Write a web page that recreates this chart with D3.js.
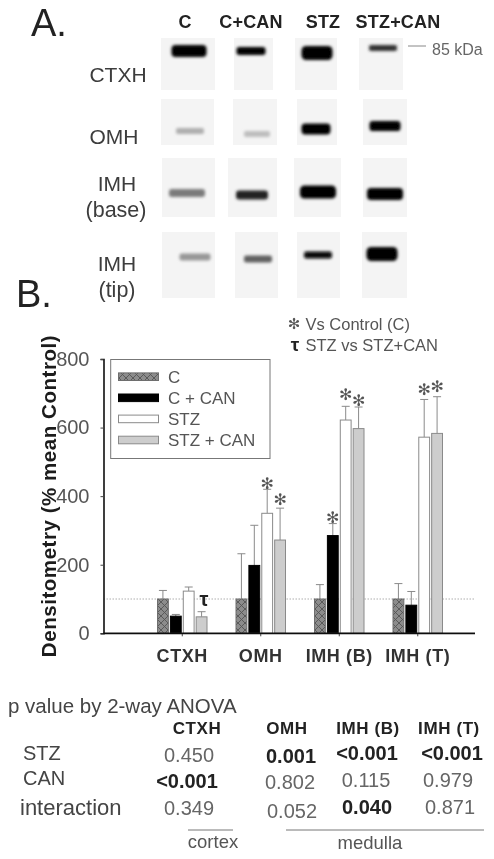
<!DOCTYPE html>
<html>
<head>
<meta charset="utf-8">
<script src="https://cdn.jsdelivr.net/npm/d3@7"></script>
<style>
    html, body { margin: 0; padding: 0; background: #fff; }
    svg { display: block; }
    text { font-family: 'Liberation Sans', Arial, sans-serif; fill: #3c3c3c; }
    .domain { fill: none; }
</style>
</head>
<body>
<svg></svg>
<script>
// Values
const groups = ['CTXH', 'OMH', 'IMH (B)', 'IMH (T)'];
const seriesNames = ['C', 'C + CAN', 'STZ', 'STZ + CAN'];
const valuesC = [100, 100, 100, 100];
const valuesCCan = [50, 198, 285, 82];
const valuesStz = [123, 350, 622, 572];
const valuesStzCan = [48, 272, 597, 583];
const errorC = [125, 232, 142, 145];
const errorCCan = [55, 315, 320, 122];
const errorStz = [135, 420, 662, 682];
const errorStzCan = [63, 365, 660, 690];
const yTicks = [0, 200, 400, 600, 800];
const referenceLine = 100;
// [group, series, height of the asterisk in chart units]
const significance = [
    [1, 2, 439], [1, 3, 392], [2, 1, 339], [2, 2, 698],
    [2, 3, 680], [3, 2, 712], [3, 3, 721]
];

// Blots
const blotColumns = ['C', 'C+CAN', 'STZ', 'STZ+CAN'];
const bandStrength = [
    [1, 1, 1, 0.8],
    [0.28, 0.22, 1, 1],
    [0.5, 0.85, 1, 1],
    [0.38, 0.6, 0.95, 1]
];

// ANOVA table
const tableHeaders = ['CTXH', 'OMH', 'IMH (B)', 'IMH (T)'];
const tableRows = ['STZ', 'CAN', 'interaction'];
const tableValues = [
    ['0.450', '0.001', '<0.001', '<0.001'],
    ['<0.001', '0.802', '0.115', '0.979'],
    ['0.349', '0.052', '0.040', '0.871']
];
const tableBold = [
    [false, true, true, true],
    [true, false, false, false],
    [false, false, true, false]
];

const canvasW = 494;
const canvasH = 859;
const svg = d3.select('svg').attr('width', canvasW).attr('height', canvasH);

// ---------------------------------------------------------
// Defs: the whole figure is a soft scan, so everything gets a slight blur
const defs = svg.append('defs');
defs.append('filter').attr('id', 'soft')
    .attr('x', 0).attr('y', 0)
    .attr('filterUnits', 'userSpaceOnUse')
    .attr('width', canvasW).attr('height', canvasH)
    .append('feGaussianBlur').attr('stdDeviation', 0.6);
defs.append('filter').attr('id', 'bandBlur')
    .attr('x', '-30%').attr('y', '-80%').attr('width', '160%').attr('height', '260%')
    .append('feGaussianBlur').attr('stdDeviation', 1.4);
const hatch = defs.append('pattern').attr('id', 'hatch')
    .attr('width', 7).attr('height', 7)
    .attr('patternUnits', 'userSpaceOnUse');
hatch.append('rect').attr('width', 7).attr('height', 7).attr('fill', '#8c8c8c');
hatch.append('path').attr('d', 'M0,0L7,7M7,0L0,7')
    .attr('stroke', '#555').attr('stroke-width', 0.9);

const root = svg.append('g').attr('filter', 'url(#soft)');

function label(parent, txt, x, y, size, opts) {
    opts = opts || {};
    return parent.append('text')
        .text(txt)
        .attr('x', x)
        .attr('y', y)
        .attr('font-size', size)
        .attr('font-weight', opts.bold ? 'bold' : 'normal')
        .attr('text-anchor', opts.anchor || 'middle')
        .attr('letter-spacing', opts.spacing || null)
        .style('fill', opts.color || null);
}

// ---------------------------------------------------------
// Panel A
const blots = root.append('g').attr('id', 'blots');
label(blots, 'A.', 31, 36, 38, { anchor: 'start', color: '#222' });

const colX = [185, 251, 323, 398];
blotColumns.forEach((c, i) => label(blots, c, colX[i], 28, 18, { bold: true, color: '#222', spacing: 0.2 }));

// panel: x0, x1 per column; y0, y1 per row. band: cx, cy, w, h
const panelY = [[38, 90], [99, 145], [158, 217], [232, 298]];
const panelX = [
    [[161, 215], [234, 273], [295, 337], [359, 403]],
    [[161, 214], [233, 277], [297, 337], [363, 407]],
    [[162, 215], [228, 277], [294, 341], [363, 407]],
    [[162, 215], [235, 278], [297, 340], [362, 407]]
];
const bandBox = [
    [[189, 51, 35, 12], [251, 51, 29, 8], [317, 53, 31, 14], [383, 48, 28, 6]],
    [[190, 131, 28, 6], [257, 134, 26, 6], [316, 129, 29, 11], [385, 126, 31, 10]],
    [[187, 193, 36, 8], [252, 195, 32, 9], [318, 192, 36, 13], [385, 194, 36, 12]],
    [[195, 257, 31, 7], [258, 259, 28, 7], [318, 255, 28, 7], [382, 254, 31, 14]]
];
const bandShade = d3.scaleLinear().domain([0, 1]).range(['#f3f3f3', '#000']);

bandStrength.forEach((row, r) => {
    row.forEach((strength, c) => {
        const [x0, x1] = panelX[r][c];
        const [y0, y1] = panelY[r];
        blots.append('rect')
            .attr('x', x0).attr('y', y0)
            .attr('width', x1 - x0).attr('height', y1 - y0)
            .attr('fill', '#f4f4f4');
        const [cx, cy, w, h] = bandBox[r][c];
        blots.append('rect')
            .attr('x', cx - w / 2).attr('y', cy - h / 2)
            .attr('width', w).attr('height', h)
            .attr('rx', h / 3)
            .attr('fill', bandShade(strength))
            .attr('filter', 'url(#bandBlur)');
    });
});

blots.append('line').attr('x1', 408).attr('x2', 426).attr('y1', 46).attr('y2', 46)
    .attr('stroke', '#888').attr('stroke-width', 1);
label(blots, '85 kDa', 432, 55, 16, { anchor: 'start', color: '#666' });

label(blots, 'CTXH', 118, 82, 21);
label(blots, 'OMH', 114, 144, 21);
label(blots, 'IMH', 117, 191, 21);
label(blots, '(base)', 116, 217, 21.5);
label(blots, 'IMH', 117, 271, 21);
label(blots, '(tip)', 117, 297, 21.5);

// ---------------------------------------------------------
// Panel B
label(root, 'B.', 16, 307, 38, { anchor: 'start', color: '#222' });

const chartLeft = 103.5;
const chartRight = 475;
const yScale = d3.scaleLinear().domain([0, 800]).range([633.3, 359]);
const xGroup = d3.scaleBand().domain(groups).range([143, 457]).paddingInner(0).paddingOuter(0);
const xSeries = d3.scaleBand().domain(seriesNames).range([14.5, 64]).paddingInner(0.16);

const chart = root.append('g').attr('id', 'chart');

// reference line at 100
chart.append('line')
    .attr('x1', chartLeft).attr('x2', chartRight)
    .attr('y1', yScale(referenceLine)).attr('y2', yScale(referenceLine))
    .attr('stroke', '#999').attr('stroke-width', 0.8)
    .attr('stroke-dasharray', '1.5 1.5');

const seriesList = [
    { name: seriesNames[0], values: valuesC, errors: errorC, fill: 'url(#hatch)', stroke: '#6e6e6e' },
    { name: seriesNames[1], values: valuesCCan, errors: errorCCan, fill: '#000', stroke: '#000' },
    { name: seriesNames[2], values: valuesStz, errors: errorStz, fill: '#fff', stroke: '#8a8a8a' },
    { name: seriesNames[3], values: valuesStzCan, errors: errorStzCan, fill: '#cdcdcd', stroke: '#8a8a8a' }
];

seriesList.forEach((s) => {
    const g = chart.append('g').attr('class', 'series');
    const barX = (i) => xGroup(groups[i]) + xSeries(s.name);

    // error bars go behind the bars
    g.selectAll('.err').data(s.errors).enter().append('path')
        .attr('class', 'err')
        .attr('d', (d, i) => {
            const cx = barX(i) + xSeries.bandwidth() / 2;
            return `M${cx},${yScale(s.values[i])}V${yScale(d)}M${cx - 4},${yScale(d)}H${cx + 4}`;
        })
        .attr('fill', 'none')
        .attr('stroke', '#8a8a8a')
        .attr('stroke-width', 1);

    g.selectAll('.bar').data(s.values).enter().append('rect')
        .attr('class', 'bar')
        .attr('x', (d, i) => barX(i))
        .attr('y', (d) => yScale(d))
        .attr('width', xSeries.bandwidth())
        .attr('height', (d) => yScale(0) - yScale(d))
        .attr('fill', s.fill)
        .attr('stroke', s.stroke)
        .attr('stroke-width', 1);
});

// Significance marks
chart.selectAll('.sig').data(significance).enter().append('text')
    .attr('class', 'sig')
    .text('✻')
    .attr('x', (d) => xGroup(groups[d[0]]) + xSeries(seriesNames[d[1]]) + xSeries.bandwidth() / 2)
    .attr('y', (d) => yScale(d[2]) + 6)
    .attr('font-size', 16)
    .attr('text-anchor', 'middle')
    .style('font-family', 'DejaVu Sans')
    .style('fill', '#555');
label(chart, 'τ', 204, 606, 20, { color: '#222', bold: true });

// Axes
const yAxis = d3.axisLeft(yScale).tickValues(yTicks).tickSize(3).tickPadding(11);
const xAxis = d3.axisBottom(xGroup).tickSize(3).tickPadding(13);

const yG = chart.append('g').attr('transform', `translate(${chartLeft},0)`).call(yAxis);
yG.select('.domain').attr('stroke', '#111').attr('stroke-width', 1.6);
yG.selectAll('.tick line').attr('stroke', '#444');
yG.selectAll('.tick text').attr('font-size', 20).style('fill', '#555');

const xG = chart.append('g').attr('transform', `translate(0,${yScale(0)})`).call(xAxis);
xG.select('.domain').remove();
xG.selectAll('.tick line').attr('stroke', '#444');
xG.selectAll('.tick text')
    .attr('font-size', 18).attr('font-weight', 'bold')
    .attr('letter-spacing', 0.6).style('fill', '#333');
chart.append('line')
    .attr('x1', chartLeft).attr('x2', chartRight)
    .attr('y1', yScale(0)).attr('y2', yScale(0))
    .attr('stroke', '#111').attr('stroke-width', 1.8);

label(chart, 'Densitometry (% mean Control)', 0, 0, 20.5, { bold: true, color: '#1a1a1a', spacing: 0.55 })
    .attr('transform', 'translate(56,496) rotate(-90)');

// Legend
const legend = chart.append('g').attr('id', 'legend');
legend.append('rect')
    .attr('x', 110.7).attr('y', 359.5).attr('width', 159.3).attr('height', 99)
    .attr('fill', '#fff').attr('stroke', '#777').attr('stroke-width', 1);
const legendY = d3.scalePoint().domain(seriesNames).range([376.7, 440]);
seriesList.forEach((s) => {
    legend.append('rect')
        .attr('x', 118.5).attr('y', legendY(s.name) - 3.8)
        .attr('width', 40).attr('height', 7.6)
        .attr('fill', s.fill).attr('stroke', s.stroke);
    label(legend, s.name, 168, legendY(s.name) + 6, 17, { anchor: 'start', color: '#555' });
});

// Note above the chart
label(chart, '✻', 294, 329, 15, { color: '#555' }).style('font-family', 'DejaVu Sans');
label(chart, 'Vs Control (C)', 305.5, 330, 16.5, { anchor: 'start', color: '#555' });
label(chart, 'τ', 295, 351, 19, { color: '#222', bold: true });
label(chart, 'STZ vs STZ+CAN', 305.5, 351, 16.5, { anchor: 'start', color: '#555' });

// ---------------------------------------------------------
// ANOVA table
const table = root.append('g').attr('id', 'table');
label(table, 'p value by 2-way ANOVA', 8, 713, 20.5, { anchor: 'start', color: '#444' });

const headerX = [197, 287, 368, 449];
tableHeaders.forEach((h, i) => label(table, h, headerX[i], 734, 17, { bold: true, color: '#222', spacing: 0.6 }));

const rowLabelX = [23, 23, 20];
const rowLabelY = [760, 785, 815];
const cellX = [
    [189, 291, 367, 452],
    [187, 290, 366, 448],
    [189, 292, 367, 450]
];
const cellY = [
    [762, 763, 760, 760],
    [788, 789, 787, 787],
    [815, 818, 814, 814]
];
tableRows.forEach((r, i) => {
    label(table, r, rowLabelX[i], rowLabelY[i], i === 2 ? 22 : 20, { anchor: 'start', color: '#444' });
    tableValues[i].forEach((v, j) => {
        label(table, v, cellX[i][j], cellY[i][j], 20, {
            bold: tableBold[i][j],
            color: tableBold[i][j] ? '#222' : '#666'
        });
    });
});

table.append('line').attr('x1', 188).attr('x2', 233).attr('y1', 830).attr('y2', 830)
    .attr('stroke', '#777').attr('stroke-width', 1);
table.append('line').attr('x1', 286).attr('x2', 484).attr('y1', 830).attr('y2', 830)
    .attr('stroke', '#777').attr('stroke-width', 1);
label(table, 'cortex', 213, 848, 18.5, { color: '#555' });
label(table, 'medulla', 370, 849, 18.5, { color: '#555' });
</script>
</body>
</html>
